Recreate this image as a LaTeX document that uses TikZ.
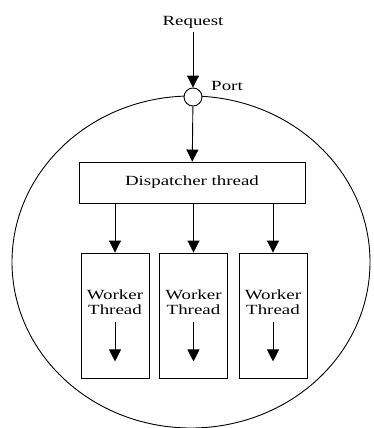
\documentclass[tikz,border=0pt]{standalone}
\usepackage{fontspec}
\setmainfont{Liberation Serif}[FakeStretch=1.35]
\usetikzlibrary{arrows.meta,positioning,shapes.geometric}

\begin{document}
\begin{tikzpicture}[
  x=1pt,y=-1pt,
  font=\fontsize{14}{15}\selectfont,
  line width=0.9pt,
  box/.style={draw,rectangle,align=center,inner sep=0pt},
  worker/.style={box,minimum width=68pt,minimum height=125pt},
  arrow/.style={-{Triangle[length=12pt,width=12pt]}}
]
\useasboundingbox (0,0) rectangle (373,428);
\node[draw,ellipse,inner sep=0pt,minimum width=358pt,minimum height=332pt] (server) at (191,262) {};
\node (request) at (193,22) {Request};
\node[draw,circle,fill=white,inner sep=0pt,minimum size=18pt] (port) at (193,97) {};
\node (portlabel) at (227,86) {Port};
\node[box,minimum width=226pt,minimum height=41pt] (disp) at (192,182.5) {Dispatcher thread};

\node[worker] (w1) at (115,315.5) {};
\node[worker] (w2) at (193.5,315.5) {};
\node[worker] (w3) at (273,315.5) {};

\foreach \w in {w1,w2,w3}{
  \node[align=center,inner sep=1pt] (\w t) at ([yshift=13pt]\w.center) {Worker\\Thread};
  \coordinate (\w out) at ([yshift=17pt]\w.south);
  \draw[arrow] (\w t.south) ++(0,-6pt) coordinate (\w in) -- (\w out);
  \draw[arrow] (disp.south -| \w.north) -- (\w.north);
}

\draw[arrow] (request) -- (port);
\draw[arrow] (port) -- (disp);
\end{tikzpicture}
\end{document}
